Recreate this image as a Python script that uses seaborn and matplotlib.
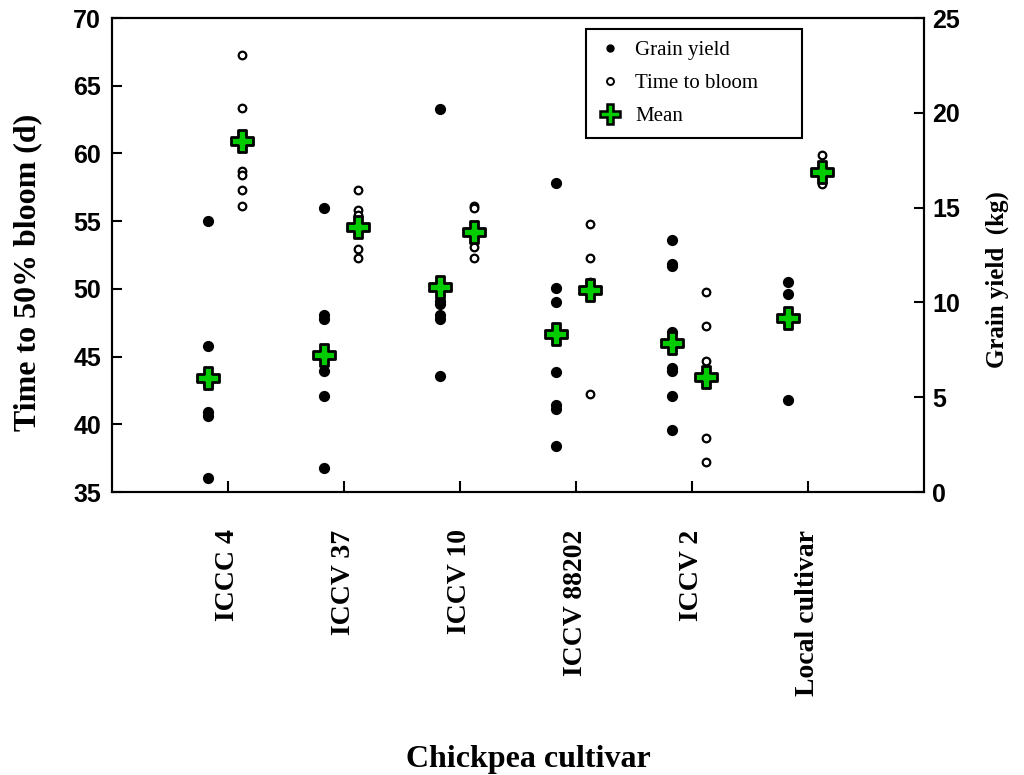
import matplotlib
matplotlib.use('Agg')
import matplotlib.pyplot as plt
from matplotlib.lines import Line2D
import pandas as pd
import seaborn as sns

cultivars = ['ICCC 4', 'ICCV 37', 'ICCV 10', 'ICCV 88202', 'ICCV 2', 'Local cultivar']

# Grain yield (kg), right axis, filled dots
yield_iccc4 = [14.3, 7.7, 5.7, 4.2, 4.0, 0.75]
yield_iccv37 = [15.0, 9.35, 9.15, 6.4, 5.05, 1.25]
yield_iccv10 = [20.2, 10.1, 9.9, 9.35, 9.1, 6.1]
yield_iccv88202 = [16.3, 10.75, 10.0, 6.35, 4.6, 4.4, 2.45]
yield_iccv2 = [13.3, 12.0, 11.9, 8.45, 6.55, 6.4, 5.05, 3.25]
yield_local = [11.05, 10.45, 4.85]
yield_mean = [6.0, 7.2, 10.8, 8.35, 7.85, 9.2]

# Time to 50% bloom (d), left axis, open circles
bloom_iccc4 = [67.3, 63.35, 58.7, 58.4, 57.3, 56.1]
bloom_iccv37 = [57.3, 55.85, 55.45, 52.95, 52.25]
bloom_iccv10 = [56.1, 55.95, 53.1, 52.25]
bloom_iccv88202 = [54.8, 52.25, 50.5, 42.25]
bloom_iccv2 = [49.75, 47.25, 44.7, 39.0, 37.25]
bloom_local = [59.85, 57.75]
bloom_mean = [60.95, 54.55, 54.2, 49.95, 43.5, 58.65]

yield_lists = [yield_iccc4, yield_iccv37, yield_iccv10, yield_iccv88202, yield_iccv2, yield_local]
bloom_lists = [bloom_iccc4, bloom_iccv37, bloom_iccv10, bloom_iccv88202, bloom_iccv2, bloom_local]

yield_shift = -0.17
bloom_shift = 0.12

rows_y = []
rows_b = []
for i, name in enumerate(cultivars):
    for v in yield_lists[i]:
        rows_y.append([name, i + 1 + yield_shift, v])
    for v in bloom_lists[i]:
        rows_b.append([name, i + 1 + bloom_shift, v])
df_yield = pd.DataFrame(rows_y, columns=['cultivar', 'pos', 'kg'])
df_bloom = pd.DataFrame(rows_b, columns=['cultivar', 'pos', 'days'])
df_ymean = pd.DataFrame({'pos': [i + 1 + yield_shift for i in range(len(cultivars))], 'kg': yield_mean})
df_bmean = pd.DataFrame({'pos': [i + 1 + bloom_shift for i in range(len(cultivars))], 'days': bloom_mean})

sns.set_style('ticks', rc={'text.color': 'black', 'axes.labelcolor': 'black',
                           'xtick.color': 'black', 'ytick.color': 'black',
                           'axes.edgecolor': 'black'})
green = '#00cc00'
serif = 'Liberation Serif'
sans = 'Liberation Sans'

fig = plt.figure(figsize=(10.24, 7.75), dpi=100)
ax = fig.add_axes([112 / 1024, 1 - 492 / 775, 812 / 1024, 474 / 775])
ax2 = ax.twinx()

# open circles + their means on the days axis
sns.scatterplot(data=df_bloom, x='pos', y='days', ax=ax, color='white', edgecolor='black',
                linewidth=1.6, s=30, marker='o', zorder=3)
sns.scatterplot(data=df_bmean, x='pos', y='days', ax=ax, color=green, edgecolor='black',
                linewidth=2.0, s=230, marker='P', zorder=4)

# filled dots + their means on the kg axis
sns.scatterplot(data=df_yield, x='pos', y='kg', ax=ax2, color='black', edgecolor='black',
                linewidth=0, s=65, marker='o', zorder=3)
sns.scatterplot(data=df_ymean, x='pos', y='kg', ax=ax2, color=green, edgecolor='black',
                linewidth=2.0, s=230, marker='P', zorder=4)

ax.set_xlim(0, 7)
ax.set_ylim(35, 70)
ax2.set_ylim(0, 25)
ax.set_yticks(range(35, 71, 5))
ax2.set_yticks(range(0, 26, 5))
ax.set_xticks(range(1, len(cultivars) + 1))
ax.set_xticklabels(cultivars, rotation=90, fontsize=20, fontfamily=serif, fontweight='bold', va='top')
ax.set_xlabel('')
ax.set_ylabel('')
ax2.set_ylabel('')

for a in (ax, ax2):
    for sp in a.spines.values():
        sp.set_visible(True)
        sp.set_linewidth(1.5)
        sp.set_color('black')
ax.tick_params(axis='x', direction='in', length=8, width=1.5, pad=27, top=False)
ax.tick_params(axis='y', direction='in', length=7, width=1.5, pad=8, labelsize=18)
ax2.tick_params(axis='y', direction='in', length=7, width=1.5, pad=6, labelsize=18)
for lab in ax.get_yticklabels() + ax2.get_yticklabels():
    lab.set_fontfamily(sans)
    lab.set_fontweight('bold')

fig.text(28 / 1024, 1 - 272 / 775, 'Time to 50% bloom (d)', rotation=90, ha='center', va='center',
         fontsize=23, fontfamily=serif, fontweight='bold')
fig.text(997 / 1024, 1 - 280 / 775, 'Grain yield  (kg)', rotation=90, ha='center', va='center',
         fontsize=18, fontfamily=serif, fontweight='bold')
fig.text(528 / 1024, 1 - 759 / 775, 'Chickpea cultivar', ha='center', va='center',
         fontsize=23, fontfamily=serif, fontweight='bold')

handles = [
    Line2D([], [], linestyle='none', marker='o', markersize=5, markerfacecolor='black', markeredgecolor='black'),
    Line2D([], [], linestyle='none', marker='o', markersize=5, markerfacecolor='white', markeredgecolor='black',
           markeredgewidth=1.4),
    Line2D([], [], linestyle='none', marker='P', markersize=14, markerfacecolor=green, markeredgecolor='black',
           markeredgewidth=1.8),
]
leg = ax2.legend(handles, ['Grain yield', 'Time to bloom', 'Mean'], loc='upper left',
                 bbox_to_anchor=(0.584, 0.5, 0.266, 0.477), mode='expand', borderaxespad=0,
                 frameon=True, fancybox=False, framealpha=1, edgecolor='black',
                 prop={'family': serif, 'size': 15},
                 labelspacing=0.65, handletextpad=0.6, borderpad=0.55, handlelength=1.2)
leg.get_frame().set_linewidth(1.5)

fig.savefig('out.png', dpi=100)
